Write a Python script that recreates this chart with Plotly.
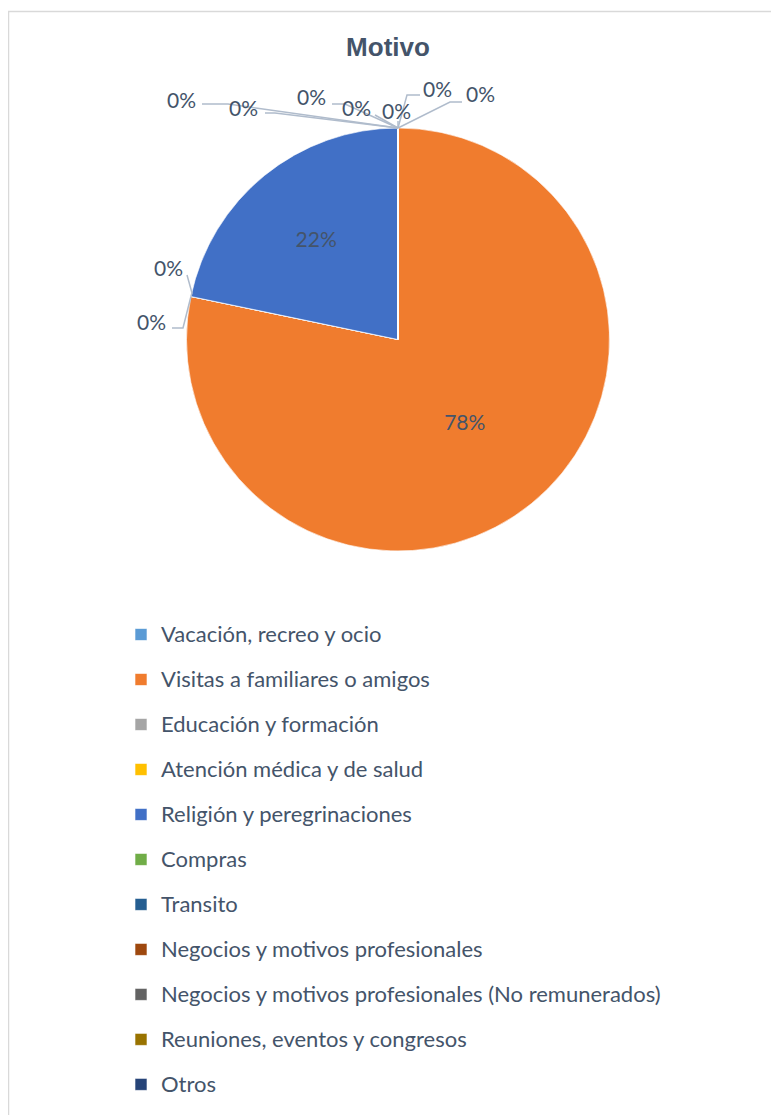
import math
import plotly.graph_objects as go

# ---- data ----
categories = [
    "Vacación, recreo y ocio",
    "Visitas a familiares o amigos",
    "Educación y formación",
    "Atención médica y de salud",
    "Religión y peregrinaciones",
    "Compras",
    "Transito",
    "Negocios y motivos profesionales",
    "Negocios y motivos profesionales (No remunerados)",
    "Reuniones, eventos y congresos",
    "Otros",
]
values = [0, 18, 0, 0, 5, 0, 0, 0, 0, 0, 0]
colors = ["#5B9BD5", "#F07C2E", "#A5A5A5", "#FFC000", "#4170C6", "#70AD47",
          "#255E91", "#9E480E", "#636363", "#997300", "#264478"]

title_text = "Motivo"
TEXT = "#44546A"
LEADER = "#B0BCCC"
FONT = "Lato"

OFF = 8                      # page body margin
W, H = 779 - OFF, 1115 - OFF
CX, CY, R = 398, 339.5, 211.5


def px(x):
    return (x - OFF) / W


def py(y):
    return 1 - (y - OFF) / H


fig = go.Figure()
fig.add_trace(go.Pie(
    labels=[f"<span style='font-size:22px;baseline-shift:5px'>{c}</span>" for c in categories],
    values=values,
    sort=False,
    direction="clockwise",
    rotation=0,
    marker=dict(colors=colors, line=dict(color="rgba(255,255,255,0.6)", width=1)),
    texttemplate="%{percent:.0%}",
    textposition="inside",
    insidetextfont=dict(family=FONT, size=21, color=TEXT),
    domain=dict(x=[px(CX - R), px(CX + R)], y=[py(CY + R), py(CY - R)]),
    hoverinfo="label+percent",
))

# ---- 0% labels for zero slices, anchored on the computed slice angles ----
total = sum(values)
cum = 0
anchors = []
for v in values:
    if v == 0:
        a = 2 * math.pi * cum / total
        anchors.append((CX + R * math.sin(a), CY - R * math.cos(a)))
    cum += v

# label placement (label centre, elbow points) in pixels, in slice order
placements = [
    ((181, 99), [(202, 104), (228, 104)]),      # Vacación (top)
    ((168, 267), [(187, 275), (192, 293)]),     # Educación (left)
    ((151, 321), [(172, 328), (183, 328)]),     # Atención (left)
    ((243, 108), [(265, 113), (275, 113)]),     # Compras (top)
    ((311, 97), [(332, 104), (345, 104)]),      # Transito
    ((356, 108), [(375, 115)]),                 # Negocios
    ((396, 110), [(398, 121)]),                 # Negocios NR
    ((437, 88), [(420, 95), (407, 95)]),        # Reuniones
    ((480, 93), [(462, 102), (450, 102)]),      # Otros
]

shapes = []
annotations = []
for (lab, pts), (ax, ay) in zip(placements, anchors):
    path_pts = pts + [(ax, ay)]
    d = "M " + " L ".join(f"{px(x)},{py(y)}" for x, y in path_pts)
    shapes.append(dict(type="path", xref="paper", yref="paper", path=d,
                       line=dict(color=LEADER, width=1.5)))
    annotations.append(dict(x=px(lab[0]), y=py(lab[1]), xref="paper", yref="paper",
                            text="0%", showarrow=False, xanchor="center", yanchor="middle",
                            font=dict(family=FONT, size=21, color=TEXT)))

# chart-area border
shapes.append(dict(type="rect", xref="paper", yref="paper",
                   x0=px(8.5), x1=px(820), y0=py(1160), y1=py(11.5),
                   line=dict(color="#D9D9D9", width=1.5), fillcolor="rgba(0,0,0,0)",
                   layer="below"))

fig.update_layout(
    width=W, height=H,
    margin=dict(l=0, r=0, t=0, b=0),
    paper_bgcolor="white",
    plot_bgcolor="white",
    title=dict(text=title_text, x=px(388), y=py(47), xref="paper", yref="paper",
               xanchor="center", yanchor="middle",
               font=dict(family="Liberation Sans", size=26, color=TEXT, weight="bold")),
    showlegend=True,
    legend=dict(
        x=px(121), y=py(607), xanchor="left", yanchor="top",
        font=dict(family=FONT, size=32.3, color=TEXT),
        bgcolor="rgba(0,0,0,0)",
        traceorder="normal",
    ),
    shapes=shapes,
    annotations=annotations,
)

fig.write_html("out.html")
